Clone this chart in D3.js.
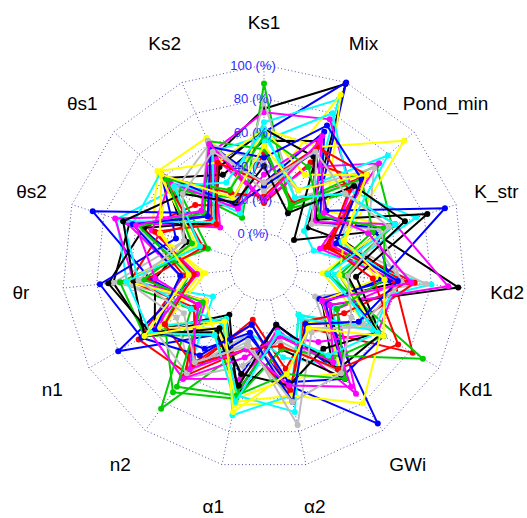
<!DOCTYPE html>
<html>
<head>
<meta charset="utf-8">
<script src="https://cdn.jsdelivr.net/npm/d3@7"></script>
<style>
  body { margin: 0; background: #fff; }
  svg { display: block; font-family: "Liberation Sans", Arial, sans-serif; }
</style>
</head>
<body>
<script>
// axes, clockwise from the top
const axes = ["Ks1", "Mix", "Pond_min", "K_str", "Kd2", "Kd1", "GWi",
  "\u03b12", "\u03b11", "n2", "n1", "\u03b8r", "\u03b8s2", "\u03b8s1", "Ks2"];
const tickValues = [0, 20, 40, 60, 80, 100];
const tickLabels = ["0 (%)", "20 (%)", "40 (%)", "60 (%)", "80 (%)", "100 (%)"];
const palette = ["#000000", "#ff0000", "#00cd00", "#0000ff", "#00ffff", "#ff00ff", "#ffff00", "#bebebe"];

// one array per run, values in the axes order (%)
const s01 = [74, 99, 15, 30, 62, 20, 48, 22, 55, 18, 60, 70, 64, 18, 52];
const s02 = [48, 22, 60, 18, 58, 82, 25, 42, 12, 58, 66, 28, 55, 35, 20];
const s03 = [89, 18, 45, 62, 25, 55, 15, 60, 28, 84, 30, 66, 20, 55, 12];
const s04 = [60, 100, 20, 55, 18, 62, 60, 15, 45, 30, 80, 20, 58, 25, 48];
const s05 = [66, 89, 12, 11, 80, 28, 52, 35, 20, 56, 15, 62, 72, 50, 30];
const s06 = [72, 76, 50, 22, 62, 30, 73, 18, 58, 25, 52, 30, 66, 15, 55];
const s07 = [25, 92, 30, 58, 15, 52, 20, 62, 64, 20, 48, 15, 50, 65, 64];
const s08 = [78, 25, 55, 28, 77, 15, 58, 25, 40, 62, 20, 70, 30, 55, 22];
const s09 = [55, 62, 4, 48, 96, 25, 62, 30, 58, 15, 55, 45, 28, 59, 40];
const s10 = [18, 48, 58, 25, 70, 45, 22, 55, 15, 50, 28, 60, 45, 22, 58];
const s11 = [52, 20, 70, 60, 28, 62, 48, 20, 56, 30, 62, 66, 15, 48, 25];
const s12 = [30, 68, 25, 50, 55, 18, 95, 52, 22, 58, 25, 48, 87, 28, 60];
const s13 = [55, 80, 48, 75, 22, 50, 15, 58, 70, 18, 50, 22, 62, 63, 15];
const s14 = [20, 45, 72, 15, 60, 58, 35, 22, 48, 62, 20, 58, 73, 25, 50];
const s15 = [62, 58, 92, 30, 48, 20, 58, 48, 60, 25, 52, 18, 45, 58, 30];
const s16 = [42, 30, 68, 45, 62, 52, 25, 58, 20, 55, 40, 62, 25, 50, 60];
const s17 = [62, 52, 22, 82, 35, 60, 55, 15, 52, 28, 58, 73, 55, 20, 45];
const s18 = [22, 60, 48, 20, 66, 35, 20, 55, 30, 60, 25, 50, 18, 60, 28];
const s19 = [50, 20, 58, 48, 18, 89, 45, 30, 60, 72, 48, 25, 58, 28, 62];
const s20 = [28, 55, 30, 93, 50, 22, 62, 50, 15, 45, 64, 78, 35, 62, 20];
const s21 = [58, 30, 79, 28, 60, 55, 18, 68, 58, 22, 30, 55, 68, 20, 55];
const s22 = [35, 65, 20, 62, 90, 25, 50, 22, 35, 62, 58, 20, 50, 55, 18];
const s23 = [62, 40, 62, 30, 25, 60, 80, 58, 62, 30, 20, 62, 22, 65, 48];
const s24 = [25, 58, 18, 52, 62, 48, 28, 76, 25, 58, 55, 30, 60, 30, 62];
const s25 = [40, 15, 52, 68, 30, 58, 40, 52, 45, 25, 62, 58, 68, 45, 22];
const s26 = [30, 58, 62, 20, 45, 72, 55, 28, 30, 52, 48, 22, 48, 18, 48];
const s27 = [58, 45, 25, 55, 52, 30, 62, 45, 58, 68, 22, 52, 25, 58, 30];
const s28 = [45, 72, 58, 25, 60, 45, 22, 62, 20, 40, 55, 30, 62, 25, 58];
const s29 = [62, 25, 45, 62, 18, 58, 45, 20, 62, 30, 58, 62, 20, 52, 35];
const s30 = [20, 62, 28, 45, 68, 20, 68, 52, 30, 55, 25, 45, 60, 30, 60];
const s31 = [52, 30, 62, 30, 52, 62, 25, 45, 68, 20, 62, 25, 45, 62, 25];
const s32 = [30, 55, 45, 58, 30, 40, 58, 62, 28, 50, 35, 55, 30, 45, 55];
const series = [s01, s02, s03, s04, s05, s06, s07, s08, s09, s10, s11, s12,
  s13, s14, s15, s16, s17, s18, s19, s20, s21, s22, s23, s24,
  s25, s26, s27, s28, s29, s30, s31, s32];

const width = 527, height = 518;
const cx = 264, cy = 267, R = 202;

const svg = d3.select("body").append("svg")
  .attr("width", width)
  .attr("height", height);

const g = svg.append("g").attr("transform", "translate(" + cx + "," + cy + ")");

// 0 % sits on an inner ring, not at the centre
let r = d3.scaleLinear().domain([0, 100]).range([R / 6, R]);
let angle = d3.scaleLinear().domain([0, axes.length]).range([0, 2 * Math.PI]);

const px = (i, v) => r(v) * Math.sin(angle(i));
const py = (i, v) => -r(v) * Math.cos(angle(i));

// grid rings
tickValues.forEach(t => {
  g.append("path")
    .attr("d", d3.line()(axes.map((a, i) => [px(i, t), py(i, t)])) + "Z")
    .attr("fill", "none")
    .attr("stroke", "#1a1a8c")
    .attr("stroke-opacity", 0.75)
    .attr("stroke-width", 1)
    .attr("stroke-dasharray", "1,2.5");
});

// spokes
axes.forEach((a, i) => {
  g.append("line")
    .attr("x1", px(i, 0)).attr("y1", py(i, 0))
    .attr("x2", px(i, 100)).attr("y2", py(i, 100))
    .attr("stroke", "#1a1a8c")
    .attr("stroke-opacity", 0.75)
    .attr("stroke-width", 1)
    .attr("stroke-dasharray", "1,2.5");
});

// runs
series.forEach((s, k) => {
  let col = palette[k % palette.length];
  let run = g.append("g");
  run.append("path")
    .attr("d", d3.line()(s.map((v, i) => [px(i, v), py(i, v)])) + "Z")
    .attr("fill", "none")
    .attr("stroke", col)
    .attr("stroke-width", 2)
    .attr("stroke-linejoin", "round");
  run.selectAll("circle")
    .data(s)
    .enter()
    .append("circle")
    .attr("cx", (v, i) => px(i, v))
    .attr("cy", (v, i) => py(i, v))
    .attr("r", 3)
    .attr("fill", col);
});

// ring labels
g.selectAll(".tick-label")
  .data(tickValues)
  .enter()
  .append("text")
  .attr("class", "tick-label")
  .attr("x", -11)
  .attr("y", d => -r(d))
  .attr("dy", "0.35em")
  .attr("text-anchor", "middle")
  .attr("font-size", 13)
  .attr("fill", "#2b2bff")
  .text((d, i) => tickLabels[i]);

// axis labels
g.selectAll(".axis-label")
  .data(axes)
  .enter()
  .append("text")
  .attr("class", "axis-label")
  .attr("x", (d, i) => 1.21 * R * Math.sin(angle(i)))
  .attr("y", (d, i) => -1.21 * R * Math.cos(angle(i)))
  .attr("dy", "0.35em")
  .attr("text-anchor", "middle")
  .attr("font-size", 19)
  .attr("fill", "#000")
  .text(d => d);
</script>
</body>
</html>
